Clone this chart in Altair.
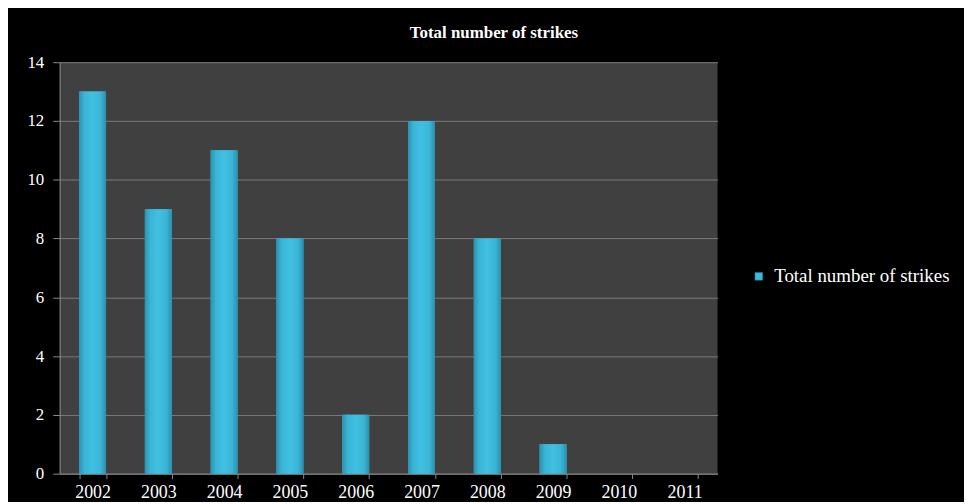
import altair as alt
import pandas as pd

years = ["2002", "2003", "2004", "2005", "2006", "2007", "2008", "2009", "2010", "2011"]
strikes = [13, 9, 11, 8, 2, 12, 8, 1, 0, 0]
series_name = "Total number of strikes"

df = pd.DataFrame({"year": years, "strikes": strikes, "series": [series_name] * len(years)})

serif = "Liberation Serif"

x_enc = alt.X("year:N", sort=years, title=None,
              scale=alt.Scale(paddingInner=0.59, paddingOuter=0.295),
              axis=alt.Axis(labelAngle=0, labelFont=serif, labelFontSize=18, labelColor="white",
                            tickBand="extent", tickSize=5, tickColor="#8a8a8a",
                            domainColor="#8a8a8a", labelPadding=5, grid=False))
y_enc = alt.Y("strikes:Q", title=None,
              scale=alt.Scale(domain=[0, 14]),
              axis=alt.Axis(values=list(range(0, 15, 2)), labelFont=serif, labelFontSize=17,
                            labelColor="white", tickSize=7, tickColor="#8a8a8a",
                            domainColor="#8a8a8a", gridColor="#7a7a7a", gridWidth=1,
                            labelPadding=9))

legend_layer = alt.Chart(df).mark_bar().encode(
    x=x_enc, y=y_enc,
    color=alt.Color("series:N", title=None,
                    scale=alt.Scale(range=["#3bb8da"]),
                    legend=alt.Legend(orient="none", legendX=694, legendY=206,
                                      labelFont=serif, labelFontSize=19, labelColor="white",
                                      labelOffset=6, labelLimit=400,
                                      symbolType="square", symbolSize=60,
                                      symbolStrokeColor="#1e7f99", symbolStrokeWidth=0.5)),
)

grad = alt.LinearGradient(
    gradient="linear", x1=0, x2=1, y1=0, y2=0,
    stops=[alt.GradientStop(offset=0, color="#2a93b0"),
           alt.GradientStop(offset=0.2, color="#3ab5d6"),
           alt.GradientStop(offset=0.5, color="#40c0e2"),
           alt.GradientStop(offset=0.8, color="#3ab5d6"),
           alt.GradientStop(offset=1, color="#2a8fab")])

bars = alt.Chart(df).mark_bar(color=grad).encode(x=x_enc, y=y_enc)

chart = alt.layer(legend_layer, bars).properties(
    width=662, height=414,
    autosize=alt.AutoSizeParams(type="none"),
    padding={"left": 52, "top": 53, "right": 248, "bottom": 27},
    background="#000000",
    title=alt.TitleParams("Total number of strikes", font=serif, fontSize=17, fontWeight="bold",
                          color="white", anchor="middle", dx=106, offset=11),
).configure_view(fill="#404040", stroke=None)

chart.save("out.html", embed_options={"renderer": "svg", "actions": False})
